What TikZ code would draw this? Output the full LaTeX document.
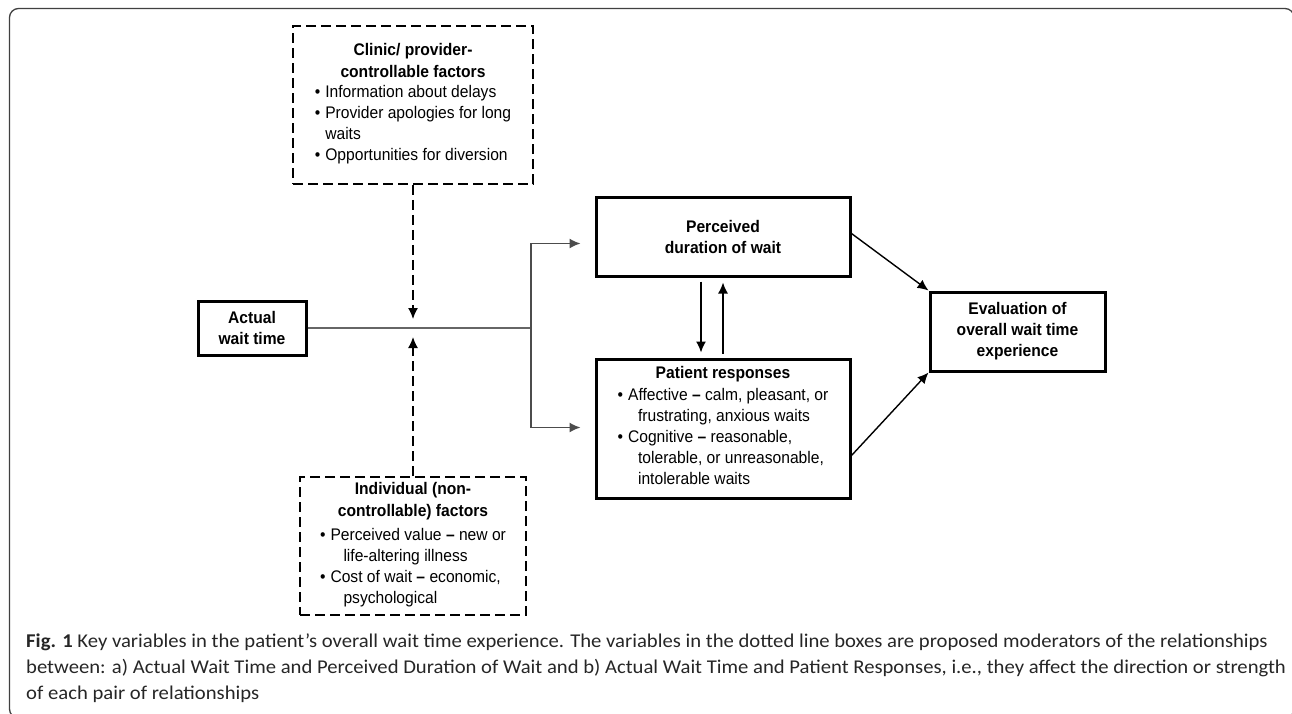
\documentclass[tikz,border=0pt]{standalone}
\usepackage{fontspec}
\setmainfont[FakeStretch=0.93]{Liberation Sans}
\newfontfamily\capfont[FakeStretch=1.06]{Carlito}
\usetikzlibrary{arrows.meta}

\tikzset{
	mainbox/.style={draw, line width=3pt, align=center, inner sep=0pt},
	modbox/.style={draw, line width=1.6pt, dash pattern=on 10pt off 5pt, align=center, inner sep=0pt},
	arr/.style={line width=1.4pt, -{Latex[length=11pt,width=10pt]}},
	modarr/.style={arr, dash pattern=on 10pt off 5pt},
	feed/.style={line width=1.4pt, black!60},
}
\newcommand{\bul}{\textbullet}

\begin{document}
\begin{tikzpicture}[x=1pt,y=-1pt,font=\fontsize{16.8}{21}\selectfont]
		\useasboundingbox (0,0) rectangle (1292,713);
		% frame
		\draw[line width=1.3pt, black!75, rounded corners=9pt] (9.5,8.5) rectangle (1294,718);
		% boxes
		\node[modbox, minimum width=240pt, minimum height=158pt] (ctrl) at (413,105) {%
			\textbf{Clinic/ provider-}\\[1pt] \textbf{controllable factors}\\[5pt]
			\begin{tabular}{@{}l@{\hspace{5pt}}l@{}}
				\bul & Information about delays\\
				\bul & Provider apologies for long\\
				     & waits\\
				\bul & Opportunities for diversion
			\end{tabular}};
		\node[modbox, minimum width=226pt, minimum height=138pt] (indiv) at (413,546) {%
			\textbf{Individual (non-}\\[1pt] \textbf{controllable) factors}\\[4pt]
			\begin{tabular}{@{}l@{\hspace{5pt}}l@{}}
				\bul & Perceived value \textbf{--} new or\\
				     & \hspace{13pt}life-altering illness\\
				\bul & Cost of wait \textbf{--} economic,\\
				     & \hspace{13pt}psychological
			\end{tabular}};
		\node[mainbox, minimum width=108pt, minimum height=54pt] (actual) at (252,328) {\textbf{Actual}\\ \textbf{wait time}};
		\node[mainbox, minimum width=254pt, minimum height=79pt] (perc) at (723,236.5) {\textbf{Perceived}\\ \textbf{duration of wait}};
		\node[mainbox, minimum width=254pt, minimum height=139pt] (resp) at (723,428.5) {%
			\textbf{Patient responses}\\[3pt]
			\begin{tabular}{@{}l@{\hspace{5pt}}l@{}}
				\bul & Affective \textbf{--} calm, pleasant, or\\
				     & \hspace{10pt}frustrating, anxious waits\\
				\bul & Cognitive \textbf{--} reasonable,\\
				     & \hspace{10pt}tolerable, or unreasonable,\\
				     & \hspace{10pt}intolerable waits
			\end{tabular}};
		\node[mainbox, minimum width=175pt, minimum height=79pt] (eval) at (1017.5,331.5) {\textbf{Evaluation of}\\ \textbf{overall wait time}\\ \textbf{experience}};
		% connectors
		\coordinate (J) at (531,328);
		\draw[feed] (actual.east) -- (J);
		\draw[arr, black!70, shorten >=14pt] (J) |- ([yshift=-7pt]perc.west);
		\draw[arr, black!70, shorten >=14pt] (J) |- ([yshift=1pt]resp.west);
		\draw[modarr, shorten >=9pt] (ctrl.south) -- (ctrl.south |- J);
		\draw[modarr, shorten >=9pt] (indiv.north) -- (indiv.north |- J);
		\draw[arr, shorten <=4pt, shorten >=5pt] ([xshift=-22pt]perc.south) -- ([xshift=-22pt]resp.north);
		\draw[arr, shorten <=4pt, shorten >=5pt] (resp.north) -- (perc.south);
		\draw[arr] ([yshift=3pt]perc.east) -- (eval.north west);
		\draw[arr] ([yshift=-27pt]resp.east) -- (eval.south west);
		% caption
		\node[anchor=west, align=left, inner sep=0pt, text=black!85, font=\capfont\fontsize{19.5}{26}\selectfont] (cap) at (26,668)
			{\textbf{Fig. 1} Key variables in the patient’s overall wait time experience. The variables in the dotted line boxes are proposed moderators of the relationships\\
			between: a) Actual Wait Time and Perceived Duration of Wait and b) Actual Wait Time and Patient Responses, i.e., they affect the direction or strength\\
			of each pair of relationships};
	\end{tikzpicture}
\end{document}
